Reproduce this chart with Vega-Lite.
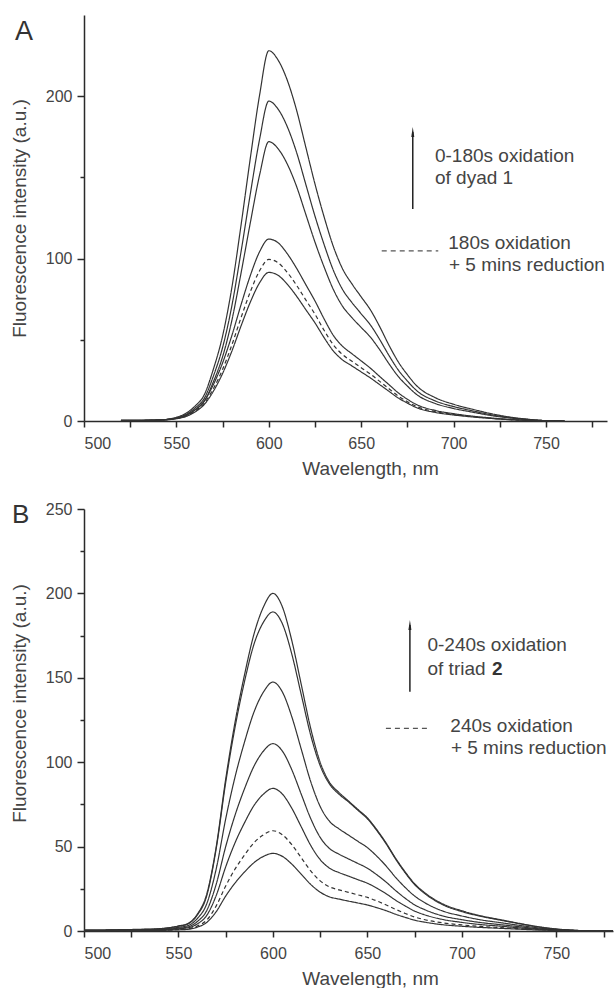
{
"$schema": "https://vega.github.io/schema/vega-lite/v6.json",
"autosize": {"type": "pad"},
"padding": {"left": 10, "top": 15, "right": 0, "bottom": 0},
"background": "white",
"bounds": "flush",
"spacing": 88,
"config": {
 "view": {"stroke": null},
 "axis": {"domainColor": "#2a2a2a", "domainWidth": 1.5, "tickColor": "#2a2a2a", "tickWidth": 1.5, "labelFont": "Liberation Sans", "labelFontSize": 16, "labelColor": "#444", "titleFont": "Liberation Sans", "titleFontSize": 19, "titleFontWeight": "normal", "titleColor": "#444", "grid": false}
},
"datasets": {
"A": [
{"curve":"ox1","wl":520,"I":0.5},{"curve":"ox1","wl":530,"I":0.5},{"curve":"ox1","wl":540,"I":0.7},{"curve":"ox1","wl":545,"I":1.1},{"curve":"ox1","wl":550,"I":2.3},{"curve":"ox1","wl":555,"I":4.6},{"curve":"ox1","wl":560,"I":9.1},{"curve":"ox1","wl":565,"I":16},{"curve":"ox1","wl":570,"I":31.9},{"curve":"ox1","wl":575,"I":52.4},{"curve":"ox1","wl":580,"I":82.1},{"curve":"ox1","wl":585,"I":120.8},{"curve":"ox1","wl":590,"I":161.9},{"curve":"ox1","wl":595,"I":200.6},{"curve":"ox1","wl":600,"I":228},{"curve":"ox1","wl":605,"I":222.3},{"curve":"ox1","wl":610,"I":209.8},{"curve":"ox1","wl":615,"I":191.5},{"curve":"ox1","wl":620,"I":168.7},{"curve":"ox1","wl":625,"I":145.9},{"curve":"ox1","wl":630,"I":125.4},{"curve":"ox1","wl":635,"I":107.2},{"curve":"ox1","wl":640,"I":93.5},{"curve":"ox1","wl":645,"I":84.4},{"curve":"ox1","wl":650,"I":76.4},{"curve":"ox1","wl":655,"I":68.4},{"curve":"ox1","wl":660,"I":58.1},{"curve":"ox1","wl":665,"I":46.7},{"curve":"ox1","wl":670,"I":36.5},{"curve":"ox1","wl":675,"I":28.5},{"curve":"ox1","wl":680,"I":21.7},{"curve":"ox1","wl":690,"I":14.4},{"curve":"ox1","wl":700,"I":10.3},{"curve":"ox1","wl":710,"I":7.3},{"curve":"ox1","wl":720,"I":4.6},{"curve":"ox1","wl":730,"I":2.5},{"curve":"ox1","wl":740,"I":1.1},{"curve":"ox1","wl":750,"I":0.2},{"curve":"ox1","wl":760,"I":0},
{"curve":"ox2","wl":520,"I":0.4},{"curve":"ox2","wl":530,"I":0.4},{"curve":"ox2","wl":540,"I":0.6},{"curve":"ox2","wl":545,"I":1.0},{"curve":"ox2","wl":550,"I":2.0},{"curve":"ox2","wl":555,"I":3.9},{"curve":"ox2","wl":560,"I":7.9},{"curve":"ox2","wl":565,"I":13.8},{"curve":"ox2","wl":570,"I":27.6},{"curve":"ox2","wl":575,"I":45.3},{"curve":"ox2","wl":580,"I":70.9},{"curve":"ox2","wl":585,"I":104.4},{"curve":"ox2","wl":590,"I":139.9},{"curve":"ox2","wl":595,"I":173.4},{"curve":"ox2","wl":600,"I":197},{"curve":"ox2","wl":605,"I":192.1},{"curve":"ox2","wl":610,"I":181.2},{"curve":"ox2","wl":615,"I":165.5},{"curve":"ox2","wl":620,"I":145.8},{"curve":"ox2","wl":625,"I":126.1},{"curve":"ox2","wl":630,"I":108.4},{"curve":"ox2","wl":635,"I":92.6},{"curve":"ox2","wl":640,"I":80.8},{"curve":"ox2","wl":645,"I":72.9},{"curve":"ox2","wl":650,"I":66},{"curve":"ox2","wl":655,"I":59.1},{"curve":"ox2","wl":660,"I":50.2},{"curve":"ox2","wl":665,"I":40.4},{"curve":"ox2","wl":670,"I":31.5},{"curve":"ox2","wl":675,"I":24.6},{"curve":"ox2","wl":680,"I":18.7},{"curve":"ox2","wl":690,"I":12.4},{"curve":"ox2","wl":700,"I":8.9},{"curve":"ox2","wl":710,"I":6.3},{"curve":"ox2","wl":720,"I":3.9},{"curve":"ox2","wl":730,"I":2.2},{"curve":"ox2","wl":740,"I":1.0},{"curve":"ox2","wl":750,"I":0.2},{"curve":"ox2","wl":760,"I":0},
{"curve":"ox3","wl":520,"I":0.3},{"curve":"ox3","wl":530,"I":0.3},{"curve":"ox3","wl":540,"I":0.5},{"curve":"ox3","wl":545,"I":0.9},{"curve":"ox3","wl":550,"I":1.7},{"curve":"ox3","wl":555,"I":3.4},{"curve":"ox3","wl":560,"I":6.9},{"curve":"ox3","wl":565,"I":12},{"curve":"ox3","wl":570,"I":24.1},{"curve":"ox3","wl":575,"I":39.6},{"curve":"ox3","wl":580,"I":61.9},{"curve":"ox3","wl":585,"I":91.2},{"curve":"ox3","wl":590,"I":122.1},{"curve":"ox3","wl":595,"I":151.4},{"curve":"ox3","wl":600,"I":172},{"curve":"ox3","wl":605,"I":167.7},{"curve":"ox3","wl":610,"I":158.2},{"curve":"ox3","wl":615,"I":144.5},{"curve":"ox3","wl":620,"I":127.3},{"curve":"ox3","wl":625,"I":110.1},{"curve":"ox3","wl":630,"I":94.6},{"curve":"ox3","wl":635,"I":80.8},{"curve":"ox3","wl":640,"I":70.5},{"curve":"ox3","wl":645,"I":63.6},{"curve":"ox3","wl":650,"I":57.6},{"curve":"ox3","wl":655,"I":51.6},{"curve":"ox3","wl":660,"I":43.9},{"curve":"ox3","wl":665,"I":35.3},{"curve":"ox3","wl":670,"I":27.5},{"curve":"ox3","wl":675,"I":21.5},{"curve":"ox3","wl":680,"I":16.3},{"curve":"ox3","wl":690,"I":10.8},{"curve":"ox3","wl":700,"I":7.7},{"curve":"ox3","wl":710,"I":5.5},{"curve":"ox3","wl":720,"I":3.4},{"curve":"ox3","wl":730,"I":1.9},{"curve":"ox3","wl":740,"I":0.9},{"curve":"ox3","wl":750,"I":0.2},{"curve":"ox3","wl":760,"I":0},
{"curve":"ox4","wl":520,"I":0.3},{"curve":"ox4","wl":530,"I":0.3},{"curve":"ox4","wl":540,"I":0.6},{"curve":"ox4","wl":545,"I":0.9},{"curve":"ox4","wl":550,"I":1.7},{"curve":"ox4","wl":555,"I":3.4},{"curve":"ox4","wl":560,"I":6.7},{"curve":"ox4","wl":565,"I":12.3},{"curve":"ox4","wl":570,"I":22.4},{"curve":"ox4","wl":575,"I":35.8},{"curve":"ox4","wl":580,"I":52.6},{"curve":"ox4","wl":585,"I":71.7},{"curve":"ox4","wl":590,"I":89.6},{"curve":"ox4","wl":595,"I":104.2},{"curve":"ox4","wl":600,"I":112},{"curve":"ox4","wl":605,"I":109.8},{"curve":"ox4","wl":610,"I":103},{"curve":"ox4","wl":615,"I":94.1},{"curve":"ox4","wl":620,"I":84},{"curve":"ox4","wl":625,"I":73.9},{"curve":"ox4","wl":630,"I":62.7},{"curve":"ox4","wl":635,"I":52.6},{"curve":"ox4","wl":640,"I":45.9},{"curve":"ox4","wl":645,"I":41.4},{"curve":"ox4","wl":650,"I":37},{"curve":"ox4","wl":655,"I":32.5},{"curve":"ox4","wl":660,"I":27.4},{"curve":"ox4","wl":665,"I":22.4},{"curve":"ox4","wl":670,"I":17.4},{"curve":"ox4","wl":675,"I":13.4},{"curve":"ox4","wl":680,"I":10.1},{"curve":"ox4","wl":690,"I":6.5},{"curve":"ox4","wl":700,"I":4.5},{"curve":"ox4","wl":710,"I":3},{"curve":"ox4","wl":720,"I":1.9},{"curve":"ox4","wl":730,"I":1},{"curve":"ox4","wl":740,"I":0.4},{"curve":"ox4","wl":750,"I":0.1},{"curve":"ox4","wl":760,"I":0},
{"curve":"red","wl":520,"I":0.3},{"curve":"red","wl":530,"I":0.3},{"curve":"red","wl":540,"I":0.5},{"curve":"red","wl":545,"I":0.8},{"curve":"red","wl":550,"I":1.5},{"curve":"red","wl":555,"I":3},{"curve":"red","wl":560,"I":6},{"curve":"red","wl":565,"I":10.9},{"curve":"red","wl":570,"I":19.9},{"curve":"red","wl":575,"I":31.8},{"curve":"red","wl":580,"I":46.8},{"curve":"red","wl":585,"I":63.7},{"curve":"red","wl":590,"I":79.6},{"curve":"red","wl":595,"I":92.5},{"curve":"red","wl":600,"I":99.5},{"curve":"red","wl":605,"I":97.5},{"curve":"red","wl":610,"I":91.5},{"curve":"red","wl":615,"I":83.6},{"curve":"red","wl":620,"I":74.6},{"curve":"red","wl":625,"I":65.7},{"curve":"red","wl":630,"I":55.7},{"curve":"red","wl":635,"I":46.8},{"curve":"red","wl":640,"I":40.8},{"curve":"red","wl":645,"I":36.8},{"curve":"red","wl":650,"I":32.8},{"curve":"red","wl":655,"I":28.9},{"curve":"red","wl":660,"I":24.4},{"curve":"red","wl":665,"I":19.9},{"curve":"red","wl":670,"I":15.4},{"curve":"red","wl":675,"I":11.9},{"curve":"red","wl":680,"I":9},{"curve":"red","wl":690,"I":5.8},{"curve":"red","wl":700,"I":4},{"curve":"red","wl":710,"I":2.7},{"curve":"red","wl":720,"I":1.7},{"curve":"red","wl":730,"I":0.9},{"curve":"red","wl":740,"I":0.4},{"curve":"red","wl":750,"I":0.1},{"curve":"red","wl":760,"I":0},
{"curve":"ox5","wl":520,"I":0.3},{"curve":"ox5","wl":530,"I":0.3},{"curve":"ox5","wl":540,"I":0.5},{"curve":"ox5","wl":545,"I":0.7},{"curve":"ox5","wl":550,"I":1.4},{"curve":"ox5","wl":555,"I":2.7},{"curve":"ox5","wl":560,"I":5.5},{"curve":"ox5","wl":565,"I":10.1},{"curve":"ox5","wl":570,"I":18.3},{"curve":"ox5","wl":575,"I":29.3},{"curve":"ox5","wl":580,"I":43},{"curve":"ox5","wl":585,"I":58.6},{"curve":"ox5","wl":590,"I":73.2},{"curve":"ox5","wl":595,"I":85.1},{"curve":"ox5","wl":600,"I":91.5},{"curve":"ox5","wl":605,"I":89.7},{"curve":"ox5","wl":610,"I":84.2},{"curve":"ox5","wl":615,"I":76.9},{"curve":"ox5","wl":620,"I":68.6},{"curve":"ox5","wl":625,"I":60.4},{"curve":"ox5","wl":630,"I":51.2},{"curve":"ox5","wl":635,"I":43},{"curve":"ox5","wl":640,"I":37.5},{"curve":"ox5","wl":645,"I":33.9},{"curve":"ox5","wl":650,"I":30.2},{"curve":"ox5","wl":655,"I":26.5},{"curve":"ox5","wl":660,"I":22.4},{"curve":"ox5","wl":665,"I":18.3},{"curve":"ox5","wl":670,"I":14.2},{"curve":"ox5","wl":675,"I":11},{"curve":"ox5","wl":680,"I":8.2},{"curve":"ox5","wl":690,"I":5.3},{"curve":"ox5","wl":700,"I":3.7},{"curve":"ox5","wl":710,"I":2.5},{"curve":"ox5","wl":720,"I":1.6},{"curve":"ox5","wl":730,"I":0.8},{"curve":"ox5","wl":740,"I":0.4},{"curve":"ox5","wl":750,"I":0.1},{"curve":"ox5","wl":760,"I":0}
],
"B": [
{"curve":"ox1","wl":500,"I":0.6},{"curve":"ox1","wl":510,"I":0.6},{"curve":"ox1","wl":520,"I":0.8},{"curve":"ox1","wl":530,"I":1},{"curve":"ox1","wl":540,"I":1.4},{"curve":"ox1","wl":545,"I":2},{"curve":"ox1","wl":550,"I":3},{"curve":"ox1","wl":555,"I":4.4},{"curve":"ox1","wl":560,"I":10},{"curve":"ox1","wl":565,"I":22},{"curve":"ox1","wl":570,"I":50},{"curve":"ox1","wl":575,"I":90},{"curve":"ox1","wl":580,"I":124},{"curve":"ox1","wl":585,"I":152},{"curve":"ox1","wl":590,"I":176},{"curve":"ox1","wl":595,"I":192},{"curve":"ox1","wl":600,"I":200},{"curve":"ox1","wl":605,"I":192},{"curve":"ox1","wl":610,"I":172},{"curve":"ox1","wl":615,"I":146},{"curve":"ox1","wl":620,"I":120},{"curve":"ox1","wl":625,"I":100},{"curve":"ox1","wl":630,"I":88},{"curve":"ox1","wl":635,"I":82},{"curve":"ox1","wl":640,"I":77},{"curve":"ox1","wl":645,"I":72},{"curve":"ox1","wl":650,"I":67},{"curve":"ox1","wl":655,"I":60},{"curve":"ox1","wl":660,"I":52},{"curve":"ox1","wl":665,"I":43},{"curve":"ox1","wl":670,"I":35},{"curve":"ox1","wl":675,"I":28},{"curve":"ox1","wl":680,"I":23},{"curve":"ox1","wl":690,"I":16},{"curve":"ox1","wl":700,"I":12},{"curve":"ox1","wl":710,"I":9},{"curve":"ox1","wl":720,"I":6.8},{"curve":"ox1","wl":730,"I":4.6},{"curve":"ox1","wl":740,"I":2.6},{"curve":"ox1","wl":750,"I":1.2},{"curve":"ox1","wl":760,"I":0.4},{"curve":"ox1","wl":770,"I":0},{"curve":"ox1","wl":780,"I":0},
{"curve":"ox2","wl":500,"I":0.6},{"curve":"ox2","wl":510,"I":0.6},{"curve":"ox2","wl":520,"I":0.8},{"curve":"ox2","wl":530,"I":0.9},{"curve":"ox2","wl":540,"I":1.3},{"curve":"ox2","wl":545,"I":1.9},{"curve":"ox2","wl":550,"I":2.8},{"curve":"ox2","wl":555,"I":4.2},{"curve":"ox2","wl":560,"I":9.5},{"curve":"ox2","wl":565,"I":21},{"curve":"ox2","wl":570,"I":49},{"curve":"ox2","wl":575,"I":88},{"curve":"ox2","wl":580,"I":121},{"curve":"ox2","wl":585,"I":148},{"curve":"ox2","wl":590,"I":170},{"curve":"ox2","wl":595,"I":183},{"curve":"ox2","wl":600,"I":189},{"curve":"ox2","wl":605,"I":182},{"curve":"ox2","wl":610,"I":164},{"curve":"ox2","wl":615,"I":140},{"curve":"ox2","wl":620,"I":116},{"curve":"ox2","wl":625,"I":98},{"curve":"ox2","wl":630,"I":87},{"curve":"ox2","wl":635,"I":81},{"curve":"ox2","wl":640,"I":76.5},{"curve":"ox2","wl":645,"I":71.5},{"curve":"ox2","wl":650,"I":66.5},{"curve":"ox2","wl":655,"I":59.5},{"curve":"ox2","wl":660,"I":51.5},{"curve":"ox2","wl":665,"I":42.5},{"curve":"ox2","wl":670,"I":34.5},{"curve":"ox2","wl":675,"I":27.5},{"curve":"ox2","wl":680,"I":22.5},{"curve":"ox2","wl":690,"I":15.5},{"curve":"ox2","wl":700,"I":11.5},{"curve":"ox2","wl":710,"I":8.7},{"curve":"ox2","wl":720,"I":6.5},{"curve":"ox2","wl":730,"I":4.4},{"curve":"ox2","wl":740,"I":2.5},{"curve":"ox2","wl":750,"I":1.1},{"curve":"ox2","wl":760,"I":0.4},{"curve":"ox2","wl":770,"I":0},{"curve":"ox2","wl":780,"I":0},
{"curve":"ox3","wl":500,"I":0.4},{"curve":"ox3","wl":510,"I":0.4},{"curve":"ox3","wl":520,"I":0.6},{"curve":"ox3","wl":530,"I":0.7},{"curve":"ox3","wl":540,"I":1},{"curve":"ox3","wl":545,"I":1.5},{"curve":"ox3","wl":550,"I":2.2},{"curve":"ox3","wl":555,"I":3.2},{"curve":"ox3","wl":560,"I":7.4},{"curve":"ox3","wl":565,"I":16.2},{"curve":"ox3","wl":570,"I":36.9},{"curve":"ox3","wl":575,"I":66.4},{"curve":"ox3","wl":580,"I":91.5},{"curve":"ox3","wl":585,"I":112.1},{"curve":"ox3","wl":590,"I":129.8},{"curve":"ox3","wl":595,"I":141.6},{"curve":"ox3","wl":600,"I":147.5},{"curve":"ox3","wl":605,"I":141.6},{"curve":"ox3","wl":610,"I":126.9},{"curve":"ox3","wl":615,"I":107.7},{"curve":"ox3","wl":620,"I":88.5},{"curve":"ox3","wl":625,"I":73.8},{"curve":"ox3","wl":630,"I":64.9},{"curve":"ox3","wl":635,"I":60.5},{"curve":"ox3","wl":640,"I":56.8},{"curve":"ox3","wl":645,"I":53.1},{"curve":"ox3","wl":650,"I":49.4},{"curve":"ox3","wl":655,"I":44.3},{"curve":"ox3","wl":660,"I":38.4},{"curve":"ox3","wl":665,"I":31.7},{"curve":"ox3","wl":670,"I":25.8},{"curve":"ox3","wl":675,"I":20.7},{"curve":"ox3","wl":680,"I":17},{"curve":"ox3","wl":690,"I":11.8},{"curve":"ox3","wl":700,"I":8.9},{"curve":"ox3","wl":710,"I":6.6},{"curve":"ox3","wl":720,"I":5},{"curve":"ox3","wl":730,"I":3.4},{"curve":"ox3","wl":740,"I":1.9},{"curve":"ox3","wl":750,"I":0.9},{"curve":"ox3","wl":760,"I":0.3},{"curve":"ox3","wl":770,"I":0},{"curve":"ox3","wl":780,"I":0},
{"curve":"ox4","wl":500,"I":0.3},{"curve":"ox4","wl":510,"I":0.3},{"curve":"ox4","wl":520,"I":0.4},{"curve":"ox4","wl":530,"I":0.6},{"curve":"ox4","wl":540,"I":0.8},{"curve":"ox4","wl":545,"I":1.1},{"curve":"ox4","wl":550,"I":1.7},{"curve":"ox4","wl":555,"I":2.4},{"curve":"ox4","wl":560,"I":5.6},{"curve":"ox4","wl":565,"I":12.2},{"curve":"ox4","wl":570,"I":27.8},{"curve":"ox4","wl":575,"I":50},{"curve":"ox4","wl":580,"I":68.8},{"curve":"ox4","wl":585,"I":84.4},{"curve":"ox4","wl":590,"I":97.7},{"curve":"ox4","wl":595,"I":106.6},{"curve":"ox4","wl":600,"I":111},{"curve":"ox4","wl":605,"I":106.6},{"curve":"ox4","wl":610,"I":95.5},{"curve":"ox4","wl":615,"I":81},{"curve":"ox4","wl":620,"I":66.6},{"curve":"ox4","wl":625,"I":55.5},{"curve":"ox4","wl":630,"I":48.8},{"curve":"ox4","wl":635,"I":45.5},{"curve":"ox4","wl":640,"I":42.7},{"curve":"ox4","wl":645,"I":40},{"curve":"ox4","wl":650,"I":37.2},{"curve":"ox4","wl":655,"I":33.3},{"curve":"ox4","wl":660,"I":28.9},{"curve":"ox4","wl":665,"I":23.9},{"curve":"ox4","wl":670,"I":19.4},{"curve":"ox4","wl":675,"I":15.5},{"curve":"ox4","wl":680,"I":12.8},{"curve":"ox4","wl":690,"I":8.9},{"curve":"ox4","wl":700,"I":6.7},{"curve":"ox4","wl":710,"I":5},{"curve":"ox4","wl":720,"I":3.8},{"curve":"ox4","wl":730,"I":2.6},{"curve":"ox4","wl":740,"I":1.4},{"curve":"ox4","wl":750,"I":0.7},{"curve":"ox4","wl":760,"I":0.2},{"curve":"ox4","wl":770,"I":0},{"curve":"ox4","wl":780,"I":0},
{"curve":"ox5","wl":500,"I":0.3},{"curve":"ox5","wl":510,"I":0.3},{"curve":"ox5","wl":520,"I":0.3},{"curve":"ox5","wl":530,"I":0.4},{"curve":"ox5","wl":540,"I":0.6},{"curve":"ox5","wl":545,"I":0.8},{"curve":"ox5","wl":550,"I":1.3},{"curve":"ox5","wl":555,"I":1.9},{"curve":"ox5","wl":560,"I":4.2},{"curve":"ox5","wl":565,"I":9.3},{"curve":"ox5","wl":570,"I":21.1},{"curve":"ox5","wl":575,"I":38},{"curve":"ox5","wl":580,"I":52.4},{"curve":"ox5","wl":585,"I":64.2},{"curve":"ox5","wl":590,"I":74.4},{"curve":"ox5","wl":595,"I":81.1},{"curve":"ox5","wl":600,"I":84.5},{"curve":"ox5","wl":605,"I":81.1},{"curve":"ox5","wl":610,"I":72.7},{"curve":"ox5","wl":615,"I":61.7},{"curve":"ox5","wl":620,"I":50.7},{"curve":"ox5","wl":625,"I":42.3},{"curve":"ox5","wl":630,"I":37.2},{"curve":"ox5","wl":635,"I":34.6},{"curve":"ox5","wl":640,"I":32.5},{"curve":"ox5","wl":645,"I":30.4},{"curve":"ox5","wl":650,"I":28.3},{"curve":"ox5","wl":655,"I":25.4},{"curve":"ox5","wl":660,"I":22},{"curve":"ox5","wl":665,"I":18.2},{"curve":"ox5","wl":670,"I":14.8},{"curve":"ox5","wl":675,"I":11.8},{"curve":"ox5","wl":680,"I":9.7},{"curve":"ox5","wl":690,"I":6.8},{"curve":"ox5","wl":700,"I":5.1},{"curve":"ox5","wl":710,"I":3.8},{"curve":"ox5","wl":720,"I":2.9},{"curve":"ox5","wl":730,"I":1.9},{"curve":"ox5","wl":740,"I":1.1},{"curve":"ox5","wl":750,"I":0.5},{"curve":"ox5","wl":760,"I":0.2},{"curve":"ox5","wl":770,"I":0},{"curve":"ox5","wl":780,"I":0},
{"curve":"red","wl":500,"I":0.2},{"curve":"red","wl":510,"I":0.2},{"curve":"red","wl":520,"I":0.2},{"curve":"red","wl":530,"I":0.3},{"curve":"red","wl":540,"I":0.4},{"curve":"red","wl":545,"I":0.6},{"curve":"red","wl":550,"I":0.9},{"curve":"red","wl":555,"I":1.3},{"curve":"red","wl":560,"I":3},{"curve":"red","wl":565,"I":6.5},{"curve":"red","wl":570,"I":14.9},{"curve":"red","wl":575,"I":26.7},{"curve":"red","wl":580,"I":36.8},{"curve":"red","wl":585,"I":45.1},{"curve":"red","wl":590,"I":52.3},{"curve":"red","wl":595,"I":57},{"curve":"red","wl":600,"I":59.4},{"curve":"red","wl":605,"I":57},{"curve":"red","wl":610,"I":51.1},{"curve":"red","wl":615,"I":43.4},{"curve":"red","wl":620,"I":35.6},{"curve":"red","wl":625,"I":29.7},{"curve":"red","wl":630,"I":26.1},{"curve":"red","wl":635,"I":24.4},{"curve":"red","wl":640,"I":22.9},{"curve":"red","wl":645,"I":21.4},{"curve":"red","wl":650,"I":19.9},{"curve":"red","wl":655,"I":17.8},{"curve":"red","wl":660,"I":15.4},{"curve":"red","wl":665,"I":12.8},{"curve":"red","wl":670,"I":10.4},{"curve":"red","wl":675,"I":8.3},{"curve":"red","wl":680,"I":6.8},{"curve":"red","wl":690,"I":4.8},{"curve":"red","wl":700,"I":3.6},{"curve":"red","wl":710,"I":2.7},{"curve":"red","wl":720,"I":2},{"curve":"red","wl":730,"I":1.4},{"curve":"red","wl":740,"I":0.8},{"curve":"red","wl":750,"I":0.4},{"curve":"red","wl":760,"I":0.1},{"curve":"red","wl":770,"I":0},{"curve":"red","wl":780,"I":0},
{"curve":"ox6","wl":500,"I":0.1},{"curve":"ox6","wl":510,"I":0.1},{"curve":"ox6","wl":520,"I":0.2},{"curve":"ox6","wl":530,"I":0.2},{"curve":"ox6","wl":540,"I":0.3},{"curve":"ox6","wl":545,"I":0.5},{"curve":"ox6","wl":550,"I":0.7},{"curve":"ox6","wl":555,"I":1},{"curve":"ox6","wl":560,"I":2.3},{"curve":"ox6","wl":565,"I":5.1},{"curve":"ox6","wl":570,"I":11.5},{"curve":"ox6","wl":575,"I":20.7},{"curve":"ox6","wl":580,"I":28.5},{"curve":"ox6","wl":585,"I":35},{"curve":"ox6","wl":590,"I":40.5},{"curve":"ox6","wl":595,"I":44.2},{"curve":"ox6","wl":600,"I":46},{"curve":"ox6","wl":605,"I":44.2},{"curve":"ox6","wl":610,"I":39.6},{"curve":"ox6","wl":615,"I":33.6},{"curve":"ox6","wl":620,"I":27.6},{"curve":"ox6","wl":625,"I":23},{"curve":"ox6","wl":630,"I":20.2},{"curve":"ox6","wl":635,"I":18.9},{"curve":"ox6","wl":640,"I":17.7},{"curve":"ox6","wl":645,"I":16.6},{"curve":"ox6","wl":650,"I":15.4},{"curve":"ox6","wl":655,"I":13.8},{"curve":"ox6","wl":660,"I":12},{"curve":"ox6","wl":665,"I":9.9},{"curve":"ox6","wl":670,"I":8.1},{"curve":"ox6","wl":675,"I":6.4},{"curve":"ox6","wl":680,"I":5.3},{"curve":"ox6","wl":690,"I":3.7},{"curve":"ox6","wl":700,"I":2.8},{"curve":"ox6","wl":710,"I":2.1},{"curve":"ox6","wl":720,"I":1.6},{"curve":"ox6","wl":730,"I":1.1},{"curve":"ox6","wl":740,"I":0.6},{"curve":"ox6","wl":750,"I":0.3},{"curve":"ox6","wl":760,"I":0.1},{"curve":"ox6","wl":770,"I":0},{"curve":"ox6","wl":780,"I":0}
]
},
"vconcat": [
{
 "width": 523, "height": 406,
 "layer": [
  {"data": {"name": "A"},
   "mark": {"type": "line", "interpolate": "monotone", "strokeWidth": 1.2, "color": "#333"},
   "encoding": {
    "x": {"field": "wl", "type": "quantitative", "scale": {"domain": [500, 783], "nice": false, "zero": false},
      "axis": {"values": [500,525,550,575,600,625,650,675,700,725,750,775], "labelExpr": "datum.value % 50 === 0 ? datum.label : ''", "format": "d", "tickSize": 6, "labelPadding": 8, "title": "Wavelength, nm", "titlePadding": 8, "titleX": 286}},
    "y": {"field": "I", "type": "quantitative", "scale": {"domain": [0, 250], "nice": false},
      "axis": {"values": [0,50,100,150,200], "labelExpr": "datum.value % 100 === 0 ? datum.label : ''", "tickSize": {"condition": {"test": "datum.value % 100 === 0", "value": 7}, "value": 4}, "labelPadding": 5, "title": "Fluorescence intensity (a.u.)", "titlePadding": 16}},
    "detail": {"field": "curve"},
    "strokeDash": {"condition": {"test": "datum.curve === 'red'", "value": [4, 3]}, "value": [1, 0]}
   }},
  {"data": {"values": [{}]}, "mark": {"type": "rule", "color": "#222", "strokeWidth": 1.5},
   "encoding": {"x": {"datum": 677.9}, "y": {"datum": 130.5}, "y2": {"datum": 178}}},
  {"data": {"values": [{}]}, "mark": {"type": "point", "shape": "M0,-1L0.3,1L-0.3,1Z", "filled": true, "color": "#222", "size": 100, "opacity": 1},
   "encoding": {"x": {"datum": 677.9}, "y": {"datum": 178}}},
  {"data": {"values": [{}]}, "mark": {"type": "text", "text": "0-180s oxidation", "align": "left", "baseline": "alphabetic", "font": "Liberation Sans", "fontSize": 19, "color": "#444"},
   "encoding": {"x": {"datum": 689.9}, "y": {"datum": 159.5}}},
  {"data": {"values": [{}]}, "mark": {"type": "text", "text": "of dyad 1", "align": "left", "baseline": "alphabetic", "font": "Liberation Sans", "fontSize": 19, "color": "#444"},
   "encoding": {"x": {"datum": 689.9}, "y": {"datum": 146}}},
  {"data": {"values": [{}]}, "mark": {"type": "rule", "color": "#555", "strokeWidth": 1.3, "strokeDash": [5, 4]},
   "encoding": {"x": {"datum": 661.1}, "x2": {"datum": 691.7}, "y": {"datum": 104.7}}},
  {"data": {"values": [{}]}, "mark": {"type": "text", "text": "180s oxidation", "align": "left", "baseline": "alphabetic", "font": "Liberation Sans", "fontSize": 19, "color": "#444"},
   "encoding": {"x": {"datum": 697.1}, "y": {"datum": 105.9}}},
  {"data": {"values": [{}]}, "mark": {"type": "text", "text": "+ 5 mins reduction", "align": "left", "baseline": "alphabetic", "font": "Liberation Sans", "fontSize": 19, "color": "#444"},
   "encoding": {"x": {"datum": 697.5}, "y": {"datum": 92.4}}},
  {"data": {"values": [{}]}, "mark": {"type": "text", "text": "A", "align": "left", "baseline": "alphabetic", "font": "Liberation Sans", "fontSize": 27, "color": "#333", "dx": -69, "dy": 25},
   "encoding": {"x": {"datum": 500}, "y": {"datum": 250}}}
 ]
},
{
 "width": 529, "height": 422,
 "layer": [
  {"data": {"name": "B"},
   "mark": {"type": "line", "interpolate": "monotone", "strokeWidth": 1.2, "color": "#333"},
   "encoding": {
    "x": {"field": "wl", "type": "quantitative", "scale": {"domain": [500, 780], "nice": false, "zero": false},
      "axis": {"values": [500,525,550,575,600,625,650,675,700,725,750,775], "labelExpr": "datum.value % 50 === 0 ? datum.label : ''", "format": "d", "tickSize": 6, "labelPadding": 8, "title": "Wavelength, nm", "titlePadding": 8, "titleX": 286}},
    "y": {"field": "I", "type": "quantitative", "scale": {"domain": [0, 250], "nice": false},
      "axis": {"values": [0,25,50,75,100,125,150,175,200,225,250], "labelExpr": "datum.value % 50 === 0 ? datum.label : ''", "tickSize": {"condition": {"test": "datum.value % 50 === 0", "value": 7}, "value": 4}, "labelPadding": 5, "title": "Fluorescence intensity (a.u.)", "titlePadding": 16, "titleY": 194}},
    "detail": {"field": "curve"},
    "strokeDash": {"condition": {"test": "datum.curve === 'red'", "value": [4, 3]}, "value": [1, 0]}
   }},
  {"data": {"values": [{}]}, "mark": {"type": "rule", "color": "#222", "strokeWidth": 1.5},
   "encoding": {"x": {"datum": 672.5}, "y": {"datum": 141.8}, "y2": {"datum": 181.3}}},
  {"data": {"values": [{}]}, "mark": {"type": "point", "shape": "M0,-1L0.3,1L-0.3,1Z", "filled": true, "color": "#222", "size": 100, "opacity": 1},
   "encoding": {"x": {"datum": 672.5}, "y": {"datum": 181.3}}},
  {"data": {"values": [{}]}, "mark": {"type": "text", "text": "0-240s oxidation", "align": "left", "baseline": "alphabetic", "font": "Liberation Sans", "fontSize": 19, "color": "#444"},
   "encoding": {"x": {"datum": 681.8}, "y": {"datum": 166}}},
  {"data": {"values": [{}]}, "mark": {"type": "text", "text": "of triad", "align": "left", "baseline": "alphabetic", "font": "Liberation Sans", "fontSize": 19, "color": "#444"},
   "encoding": {"x": {"datum": 681.8}, "y": {"datum": 151.7}}},
  {"data": {"values": [{}]}, "mark": {"type": "text", "text": "2", "align": "left", "baseline": "alphabetic", "font": "Liberation Sans", "fontSize": 19, "fontWeight": "bold", "color": "#333"},
   "encoding": {"x": {"datum": 716}, "y": {"datum": 151.7}}},
  {"data": {"values": [{}]}, "mark": {"type": "rule", "color": "#555", "strokeWidth": 1.3, "strokeDash": [5, 4]},
   "encoding": {"x": {"datum": 659.8}, "x2": {"datum": 682.7}, "y": {"datum": 120}}},
  {"data": {"values": [{}]}, "mark": {"type": "text", "text": "240s oxidation", "align": "left", "baseline": "alphabetic", "font": "Liberation Sans", "fontSize": 19, "color": "#444"},
   "encoding": {"x": {"datum": 693.9}, "y": {"datum": 118}}},
  {"data": {"values": [{}]}, "mark": {"type": "text", "text": "+ 5 mins reduction", "align": "left", "baseline": "alphabetic", "font": "Liberation Sans", "fontSize": 19, "color": "#444"},
   "encoding": {"x": {"datum": 694.2}, "y": {"datum": 104.9}}},
  {"data": {"values": [{}]}, "mark": {"type": "text", "text": "B", "align": "left", "baseline": "alphabetic", "font": "Liberation Sans", "fontSize": 26, "color": "#333", "dx": -72, "dy": 14},
   "encoding": {"x": {"datum": 500}, "y": {"datum": 250}}}
 ]
}
]
}
